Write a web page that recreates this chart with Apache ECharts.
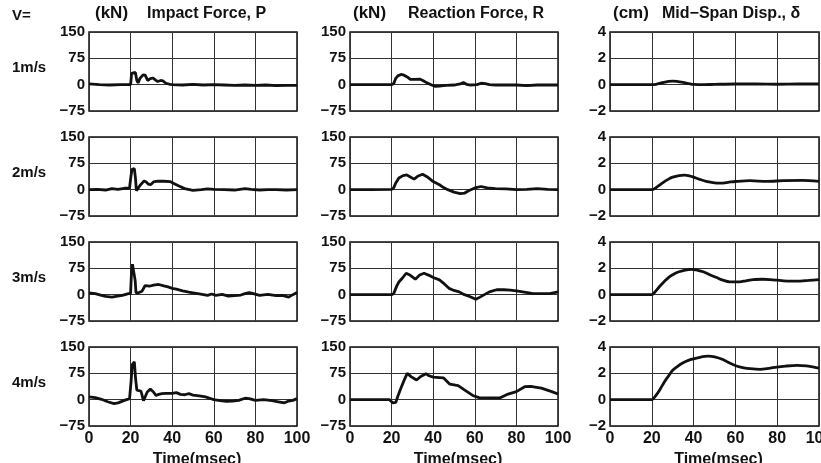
<!DOCTYPE html>
<html>
<head>
  <meta charset="utf-8">
  <title>Impact test records</title>
  <script src="https://fastly.jsdelivr.net/npm/echarts@6.0.0/dist/echarts.min.js"></script>
</head>
<body style="margin:0">
<div id="chart-container" style="position: relative; width: 821px; height: 463px; overflow: hidden;"></div>
<script type="text/javascript">
  // [time (msec), value]
  var impact1 = [[0,2],[5,0],[10,-1],[15,0],[20,0],[20.5,32],[21,37],[22.3,35],[23,12],[23.6,5],[24.5,18],[26,28],[27,27],[28.2,12],[29.5,17],[30.8,19],[32,13],[33,9],[34.5,12],[35.5,11],[37,4],[39,1],[40,0],[45,-1],[50,1],[55,-1],[60,0],[65,-1],[70,-2],[75,-1],[80,-2],[85,-1],[90,-3],[95,-2],[100,-2]];
  var impact2 = [[0,0],[4,1],[8,-1],[11,3],[14,1],[17,4],[19.5,5],[20.2,40],[20.7,58],[21.8,60],[22.3,35],[22.8,-3],[23.6,-2],[24.5,12],[26.5,25],[27.5,22],[28.5,16],[29.6,14],[31,22],[33,24],[36,24],[39,23],[41,17],[43,11],[46,3],[50,-2],[54,0],[57,2],[60,1],[65,0],[70,-1],[75,3],[78,1],[82,-1],[86,0],[90,0],[95,-1],[100,0]];
  var impact3 = [[0,5],[3,3],[6,-2],[8,-5],[11,-7],[13,-5],[16,-2],[19,3],[20,4],[20.4,60],[20.9,87],[21.7,88],[22.2,40],[22.6,5],[24,6],[25.5,10],[27,26],[29,24],[31,27],[33.5,29],[36,25],[38,22],[40,18],[42,16],[45,11],[48,7],[50,5],[53,2],[55,0],[57,-2],[59,2],[61,-2],[64,1],[67,-4],[70,-3],[73,-1],[75,3],[77,6],[79,3],[82,-2],[86,1],[90,-3],[93,-2],[96,-7],[98,0],[100,6]];
  var impact4 = [[0,8],[3,6],[6,1],[9,-6],[12,-11],[14,-9],[17,-2],[19.5,3],[20.2,50],[20.8,100],[21.8,108],[22.4,60],[23,27],[24,26],[25,24],[26.2,-3],[27,2],[28,22],[29.5,30],[31,22],[32.2,12],[33.5,15],[35,17],[37,18],[40,18],[42,20],[44,15],[46,14],[48,17],[50,13],[53,11],[56,8],[58,4],[60,0],[63,-3],[66,-5],[69,-4],[72,-2],[75,4],[77,3],[80,-2],[84,0],[88,-3],[91,-6],[94,-9],[96,-4],[98,-2],[100,3]];

  var reaction1 = [[0,0],[10,0],[20,0],[21,3],[22,18],[23,25],[24.5,29],[26,27],[27.5,22],[29,15],[31,15],[33.5,16],[35,12],[37,5],[39,0],[41,-5],[43,-4],[46,-2],[50,-1],[53,2],[54.5,6],[56,1],[58,-1],[61,0],[63,4],[65,3],[67,0],[70,-1],[75,-1],[80,-1],[85,-3],[90,-1],[95,-1],[100,-1]];
  var reaction2 = [[0,0],[10,0],[20,1],[21,5],[22,19],[23.5,33],[25.5,40],[27.3,42],[29,36],[30.8,30],[32.5,38],[34.9,44],[37,37],[40,23],[43,14],[45,6],[47,0],[50,-7],[53,-11],[55,-10],[57,-3],[60,5],[63,9],[66,5],[70,3],[75,2],[80,0],[85,1],[90,3],[95,1],[100,0]];
  var reaction3 = [[0,0],[10,0],[20,0],[21,3],[22.5,25],[23.5,36],[25,46],[27,61],[29,55],[31.4,44],[33.5,56],[35.6,61],[38,55],[40,49],[43,42],[45.5,30],[47.6,18],[50,12],[52.5,8],[55,0],[57.5,-5],[60.5,-13],[62.5,-7],[64,-2],[67,8],[70.5,14],[74,14],[77,13],[80,11],[83,8],[86,5],[88,3],[92,3],[96,3],[100,8]];
  var reaction4 = [[0,0],[10,0],[19,0],[20.5,-9],[22,-8],[23,10],[24.5,33],[26,55],[27.5,75],[29.5,65],[32,56],[34,66],[36.5,74],[38,68],[40,64],[43,63],[45,62],[48,44],[52,40],[55,28],[59,12],[62,6],[66,5],[72,5],[76,16],[80,23],[84,37],[87,38],[89,36],[92,33],[97,23],[100,16]];

  var disp1 = [[0,0],[10,0],[20,0],[22,0.03],[25,0.15],[28,0.25],[30,0.27],[32,0.25],[35,0.17],[38,0.07],[40,0.02],[45,0],[50,0.02],[60,0.05],[70,0.05],[80,0.03],[90,0.05],[100,0.05]];
  var disp2 = [[0,0],[10,0],[20,0],[22,0.15],[25,0.5],[28,0.8],[30,0.95],[33,1.07],[35.6,1.1],[38,1.05],[40,0.95],[43,0.78],[46,0.63],[50,0.52],[53,0.5],[57,0.57],[60,0.62],[67,0.68],[75,0.63],[83,0.68],[92,0.7],[100,0.63]];
  var disp3 = [[0,0],[10,0],[20,0],[21.5,0.2],[23.6,0.6],[26,1.0],[28.4,1.36],[31,1.6],[33,1.74],[36,1.87],[39,1.92],[42,1.85],[44.6,1.74],[48,1.5],[51,1.3],[54,1.1],[57.4,0.97],[62,0.97],[65,1.05],[68.6,1.15],[73,1.17],[76.6,1.15],[80,1.1],[83,1.05],[87,1.03],[91,1.03],[95,1.08],[100,1.15]];
  var disp4 = [[0,0],[10,0],[20,0],[22,0.33],[24,0.8],[26,1.34],[28,1.8],[30,2.23],[32.5,2.55],[35,2.8],[37.5,2.98],[40,3.1],[43,3.22],[47,3.3],[50,3.25],[54,3.05],[57,2.8],[60.5,2.56],[64,2.42],[67,2.35],[71.8,2.3],[76,2.38],[79.8,2.48],[84,2.55],[89.5,2.6],[94,2.56],[97.6,2.48],[100,2.4]];

  var speeds = ['1m/s', '2m/s', '3m/s', '4m/s'];
  var colTitles = [['(kN)', 'Impact Force, P'], ['(kN)', 'Reaction Force, R'], ['(cm)', 'Mid\u2212Span Disp., \u03b4']];
  var xTicks = [0, 20, 40, 60, 80, 100];
  var forceTicks = [-75, 0, 75, 150];
  var dispTicks = [-2, 0, 2, 4];
  var rows = [
    [impact1, reaction1, disp1],
    [impact2, reaction2, disp2],
    [impact3, reaction3, disp3],
    [impact4, reaction4, disp4]
  ];

  var dom = document.getElementById('chart-container');
  var myChart = echarts.init(dom, null, { renderer: 'canvas' });
  var FONT = '"Liberation Sans", Arial, sans-serif';

  var colLeft = [89, 350, 610];
  var colWidth = [208, 208, 209];
  var rowTop = [32, 137, 242, 347];
  var rowHeight = 79;

  var grids = [], xAxes = [], yAxes = [], series = [], graphics = [];

  for (var r = 0; r < 4; r++) {
    for (var c = 0; c < 3; c++) {
      var idx = r * 3 + c;
      var ticks = c === 2 ? dispTicks : forceTicks;
      grids.push({
        left: colLeft[c], top: rowTop[r], width: colWidth[c], height: rowHeight,
        outerBoundsMode: 'none', containLabel: false,
        show: true, borderColor: '#111', borderWidth: 1.5, backgroundColor: 'transparent'
      });
      xAxes.push({
        gridIndex: idx, type: 'value', min: xTicks[0], max: xTicks[xTicks.length - 1],
        interval: xTicks[1] - xTicks[0],
        axisLine: { show: false }, axisTick: { show: false },
        splitLine: { show: true, lineStyle: { color: '#333', width: 1 } },
        axisLabel: {
          show: r === 3, margin: 5, color: '#111', fontSize: 16, fontWeight: 'bold', fontFamily: FONT
        }
      });
      yAxes.push({
        gridIndex: idx, type: 'value', min: ticks[0], max: ticks[ticks.length - 1],
        interval: ticks[1] - ticks[0],
        axisLine: { show: false }, axisTick: { show: false },
        splitLine: { show: true, lineStyle: { color: '#333', width: 1 } },
        axisLabel: {
          margin: 4, color: '#111', fontSize: 15, fontWeight: 'bold', fontFamily: FONT,
          formatter: function (v) { return String(v).replace('-', '\u2212'); }
        }
      });
      series.push({
        type: 'line', xAxisIndex: idx, yAxisIndex: idx, data: rows[r][c],
        showSymbol: false, smooth: c === 2 ? 0.3 : false,
        lineStyle: { color: '#111', width: 2.8 }
      });
    }
    graphics.push({
      type: 'text', left: 12, top: rowTop[r] + 28,
      style: { text: speeds[r], font: 'bold 15px ' + FONT, fill: '#111' }
    });
  }

  graphics.push({ type: 'text', left: 12, top: 8, style: { text: 'V=', font: 'bold 15px ' + FONT, fill: '#111' } });
  var titleX = [95, 353, 613];
  var nameX = [147, 408, 662];
  for (var k = 0; k < 3; k++) {
    graphics.push({ type: 'text', left: titleX[k], top: 5, style: { text: colTitles[k][0], font: 'bold 17px ' + FONT, fill: '#111' } });
    graphics.push({ type: 'text', left: nameX[k], top: 6, style: { text: colTitles[k][1], font: 'bold 16px ' + FONT, fill: '#111' } });
    graphics.push({
      type: 'text', x: colLeft[k] + colWidth[k] / 2 + 4, y: 452,
      style: { text: 'Time(msec)', font: 'bold 16px ' + FONT, fill: '#111', align: 'center', verticalAlign: 'top' }
    });
  }

  myChart.setOption({
    backgroundColor: '#fff',
    animation: false,
    grid: grids,
    xAxis: xAxes,
    yAxis: yAxes,
    series: series,
    graphic: graphics
  });

  window.addEventListener('resize', myChart.resize);
</script>
</body>
</html>
